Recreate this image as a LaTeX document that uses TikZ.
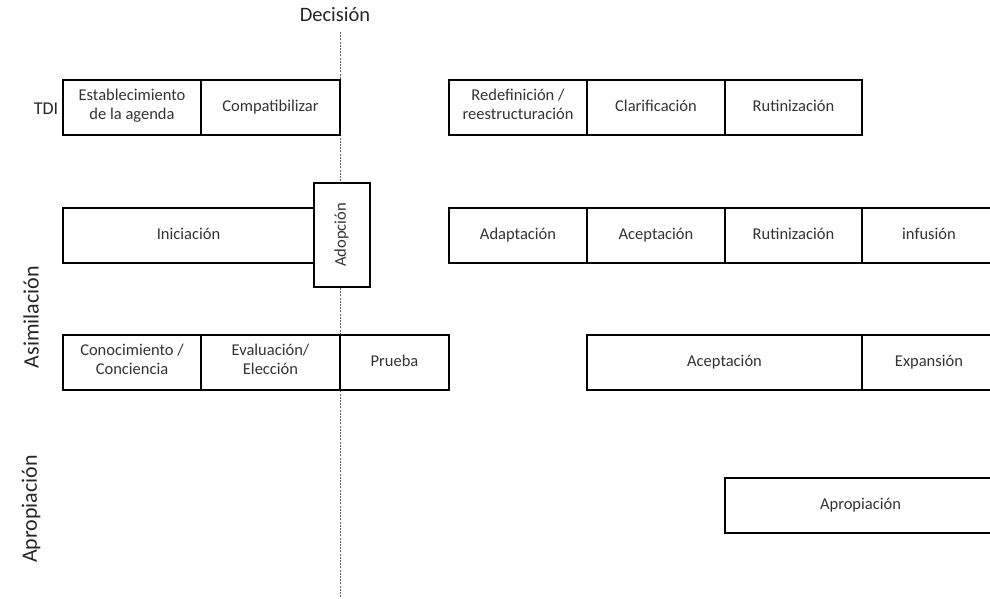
\documentclass[tikz,border=0pt]{standalone}
\usepackage{fontspec}
\setmainfont{Carlito}
\begin{document}
\begin{tikzpicture}[x=1pt,y=-1pt,
  bx/.style={draw=black, fill=white, line width=1.4pt, inner sep=0pt, align=center,
    minimum height=55pt, font=\fontsize{16.5}{19}\selectfont, text=black!80,
    execute at begin node=\strut, execute at end node=\strut},
  lbl/.style={font=\fontsize{22}{24}\selectfont, text=black!85},
  dline/.style={draw=black!60, line width=0.7pt, dash pattern=on 2pt off 1.2pt}]
\useasboundingbox (0,0) rectangle (990,598);
\clip (0,0) rectangle (990,598);
% decision line
\node[lbl, font=\fontsize{20.5}{22}\selectfont] (dec) at (335,15) {Decisión};
\coordinate (dbot) at (340,598);
\draw[dline] (340,32) -- (dbot);
% labels
\node[lbl, font=\fontsize{18}{20}\selectfont] (tdi) at (46,109) {TDI};
\node[lbl, rotate=90] (asim) at (31,317) {Asimilación};
\node[lbl, rotate=90] (apro) at (31,509) {Apropiación};
% row 1
\node[bx, minimum width=138pt] (e1) at (132,107.5) {Establecimiento\\de la agenda};
\node[bx, minimum width=139pt] (e2) at (270.5,107.5) {Compatibilizar};
\node[bx, minimum width=138pt] (r1) at (518,107.5) {Redefinición /\\reestructuración};
\node[bx, minimum width=138pt] (r2) at (656,107.5) {Clarificación};
\node[bx, minimum width=137pt] (r3) at (793.5,107.5) {Rutinización};
% row 2
\node[bx, minimum width=251pt] (ini) at (188.5,235.5) {Iniciación};
\node[bx, minimum width=56pt, minimum height=104pt] (adopbox) at (342,235) {};
\node[font=\fontsize{16.5}{19}\selectfont, text=black!80, rotate=90] (adop) at (adopbox.center) {\strut Adopción};
\node[bx, minimum width=138pt] (a1) at (518,235.5) {Adaptación};
\node[bx, minimum width=138pt] (a2) at (656,235.5) {Aceptación};
\node[bx, minimum width=137pt] (a3) at (793.5,235.5) {Rutinización};
\node[bx, minimum width=134pt] (a4) at (929,235.5) {infusión};
% row 3
\node[bx, minimum width=138pt] (c1) at (132,362.5) {Conocimiento /\\Conciencia};
\node[bx, minimum width=139pt] (c2) at (270.5,362.5) {Evaluación/\\Elección};
\node[bx, minimum width=109pt] (c3) at (394.5,362.5) {Prueba};
\node[bx, minimum width=275pt] (c4) at (724.5,362.5) {Aceptación};
\node[bx, minimum width=134pt] (c5) at (929,362.5) {Expansión};
% row 4
\node[bx, minimum width=271pt] (ap) at (860.5,505.5) {Apropiación};
\end{tikzpicture}
\end{document}
